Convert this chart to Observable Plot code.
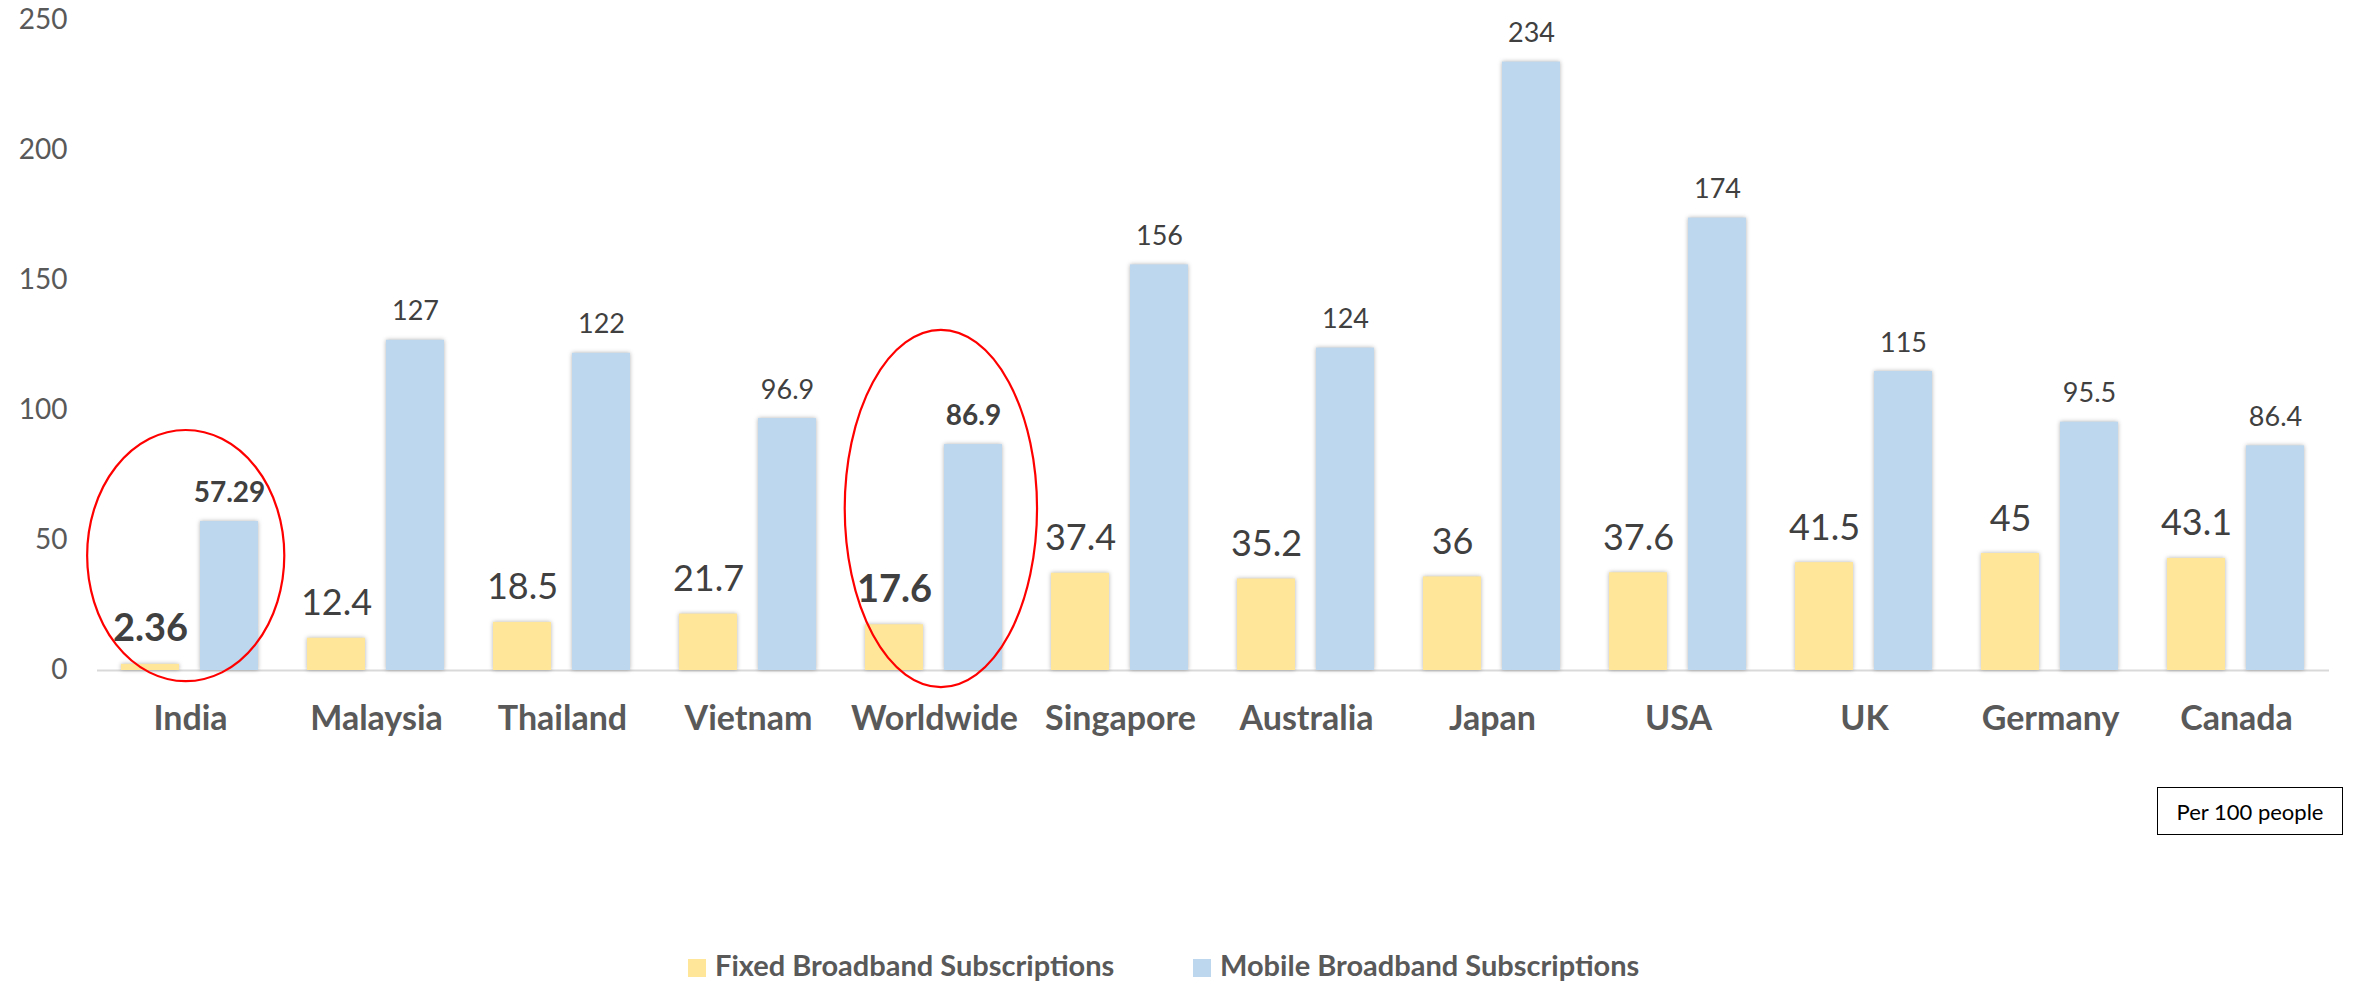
<!DOCTYPE html>
<html>
<head>
<meta charset="utf-8">
<script src="https://cdn.jsdelivr.net/npm/d3@7"></script>
<script src="https://cdn.jsdelivr.net/npm/@observablehq/plot@0.6"></script>
<style>
  html, body { margin: 0; padding: 0; background: #ffffff; }
  #wrap { position: relative; width: 2362px; height: 981px; overflow: hidden; font-family: Lato, "Open Sans", sans-serif; }
  #legend { position: relative; width: 2362px; height: 41px; }
  .litem { position: absolute; top: 0; height: 41px; }
  .lswatch { position: absolute; top: 19px; width: 18px; height: 18px; }
  .ltext { position: absolute; top: 8.4px; left: 27px; white-space: nowrap; font-weight: 700; font-size: 29px; line-height: 1.2; color: #595959; }
  #note { position: absolute; left: 2157px; top: 787px; width: 184px; height: 46px; border: 1.5px solid #000; box-sizing: content-box;
          display: flex; align-items: center; justify-content: center; font-size: 22px; color: #000; }
</style>
</head>
<body>
<div id="wrap"></div>
<script>
// ---------- data ----------
const countries = ["India", "Malaysia", "Thailand", "Vietnam", "Worldwide", "Singapore", "Australia", "Japan", "USA", "UK", "Germany", "Canada"];
const fixedValues = [2.36, 12.4, 18.5, 21.7, 17.6, 37.4, 35.2, 36, 37.6, 41.5, 45, 43.1];
const mobileValues = [57.29, 127, 122, 96.9, 86.9, 156, 124, 234, 174, 115, 95.5, 86.4];
const seriesNames = ["Fixed Broadband Subscriptions", "Mobile Broadband Subscriptions"];
const seriesColors = ["#FFE699", "#BDD7EE"];
const yTicks = [0, 50, 100, 150, 200, 250];
const highlighted = ["India", "Worldwide"];
const unitNote = "Per 100 people";
// red ellipse annotations
const ellipseCountries = ["India", "Worldwide"];
const ellipseCentre = [44.0, 62.1];       // value units
const ellipseHalfHeight = [48.3, 68.7];   // value units
const ellipseHalfWidth = [0.53, 0.517];   // fraction of group width
const ellipseShift = [-0.023, 0.037];     // fraction of group width

// ---------- table ----------
const rows = countries.flatMap((c, i) => [
  {country: c, series: seriesNames[0], value: fixedValues[i]},
  {country: c, series: seriesNames[1], value: mobileValues[i]}
]);
const isHi = d => highlighted.includes(d.country);
const fixedRows = rows.filter(d => d.series === seriesNames[0]);
const mobileRows = rows.filter(d => d.series === seriesNames[1]);

const labelOpts = (size, dy) => ({
  fx: "country", x: "series", y: "value", text: d => String(d.value),
  dy, lineAnchor: "bottom", fontSize: size, fill: "#404040"
});

const plot = Plot.plot({
  width: 2362,
  height: 940,
  marginLeft: 93,
  marginRight: 29,
  marginTop: 20,
  marginBottom: 270,
  style: {fontFamily: "Lato, 'Open Sans', sans-serif", background: "#ffffff"},
  fx: {domain: countries, padding: 0, label: null},
  x: {domain: seriesNames, paddingInner: 0.2625, paddingOuter: 0.298, axis: null},
  y: {domain: [0, 250], label: null},
  color: {domain: seriesNames, range: seriesColors},
  marks: [
    Plot.ruleY([0], {stroke: "#D9D9D9", strokeWidth: 2}),
    Plot.barY(rows, {fx: "country", x: "series", y: "value", fill: "series"}),
    Plot.text(fixedRows.filter(d => !isHi(d)), labelOpts(36, -23)),
    Plot.text(fixedRows.filter(isHi), {...labelOpts(38, -23), fontWeight: "bold"}),
    Plot.text(mobileRows.filter(d => !isHi(d)), labelOpts(27, -20)),
    Plot.text(mobileRows.filter(isHi), {...labelOpts(28, -20), fontWeight: "bold"}),
    Plot.axisY({ticks: yTicks, tickSize: 0, tickPadding: 30, fontSize: 28, color: "#595959", label: null}),
    Plot.axisFx({anchor: "bottom", tickSize: 0, tickPadding: 35, fontSize: 34, fontWeight: "bold", color: "#595959", label: null})
  ]
});

// bar shadow (Excel-style)
d3.select(plot).selectAll("g[aria-label='bar'] rect")
  .style("filter", "drop-shadow(0px 0px 2px rgba(0,0,0,0.3))");

// red ellipses through the plot's scales
const fxS = plot.scale("fx"), yS = plot.scale("y");
ellipseCountries.forEach((c, i) => {
  const bw = fxS.bandwidth;
  const cx = fxS.apply(c) + bw * (0.5 + ellipseShift[i]);
  d3.select(plot).append("ellipse")
    .attr("cx", cx)
    .attr("cy", yS.apply(ellipseCentre[i]))
    .attr("rx", bw * ellipseHalfWidth[i])
    .attr("ry", Math.abs(yS.apply(0) - yS.apply(ellipseHalfHeight[i])))
    .attr("fill", "none")
    .attr("stroke", "#FF0000")
    .attr("stroke-width", 2.2);
});

const wrap = document.getElementById("wrap");
plot.style.display = "block";
wrap.appendChild(plot);

// legend
const legend = document.createElement("div");
legend.id = "legend";
const legendLeft = [688, 1193];
seriesNames.forEach((name, i) => {
  const item = document.createElement("div");
  item.className = "litem";
  item.style.left = legendLeft[i] + "px";
  const sw = document.createElement("div");
  sw.className = "lswatch";
  sw.style.background = seriesColors[i];
  const tx = document.createElement("div");
  tx.className = "ltext";
  tx.textContent = name;
  item.appendChild(sw);
  item.appendChild(tx);
  legend.appendChild(item);
});
wrap.appendChild(legend);

// unit note box
const note = document.createElement("div");
note.id = "note";
note.textContent = unitNote;
wrap.appendChild(note);
</script>
</body>
</html>
